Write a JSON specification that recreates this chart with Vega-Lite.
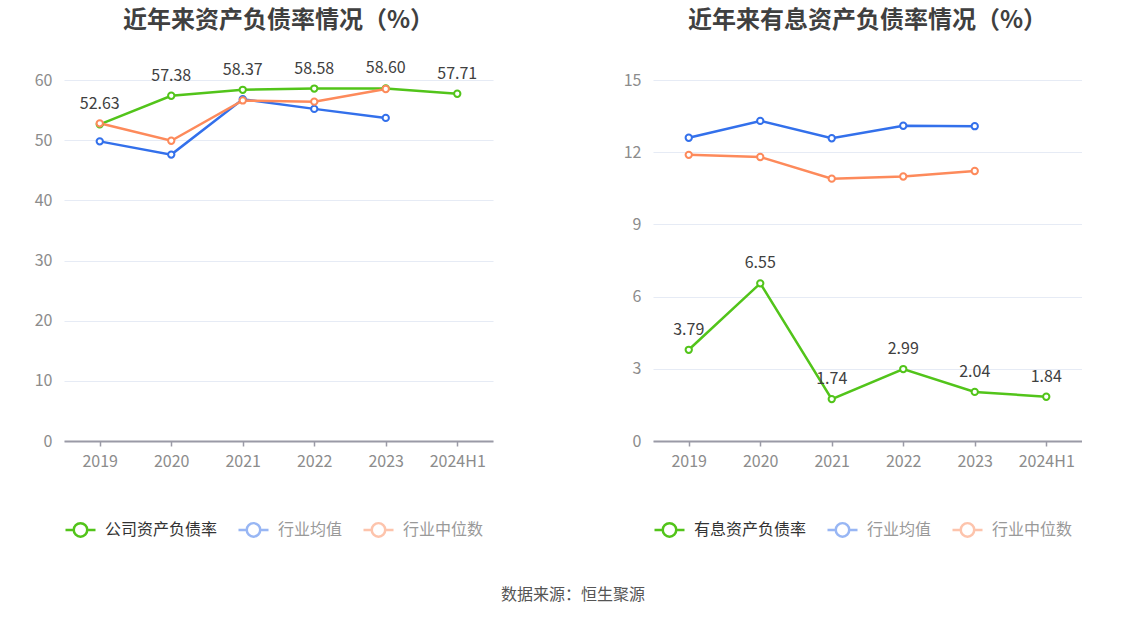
{
  "$schema": "https://vega.github.io/schema/vega-lite/v6.json",
  "padding": {"left": 0, "top": 9, "right": 0, "bottom": 20},
  "background": "white",
  "title": {
    "text": "数据来源：恒生聚源",
    "orient": "bottom",
    "anchor": "middle",
    "fontSize": 16,
    "fontWeight": "normal",
    "color": "#555555",
    "font": "Noto Sans CJK SC",
    "offset": 45,
    "dx": 32
  },
  "datasets": {
    "debt": [
      {"year": "2019", "series": "公司资产负债率", "value": 52.63},
      {"year": "2020", "series": "公司资产负债率", "value": 57.38},
      {"year": "2021", "series": "公司资产负债率", "value": 58.37},
      {"year": "2022", "series": "公司资产负债率", "value": 58.58},
      {"year": "2023", "series": "公司资产负债率", "value": 58.60},
      {"year": "2024H1", "series": "公司资产负债率", "value": 57.71},
      {"year": "2019", "series": "行业均值", "value": 49.8},
      {"year": "2020", "series": "行业均值", "value": 47.6},
      {"year": "2021", "series": "行业均值", "value": 56.8},
      {"year": "2022", "series": "行业均值", "value": 55.2},
      {"year": "2023", "series": "行业均值", "value": 53.7},
      {"year": "2019", "series": "行业中位数", "value": 52.8},
      {"year": "2020", "series": "行业中位数", "value": 49.9},
      {"year": "2021", "series": "行业中位数", "value": 56.6},
      {"year": "2022", "series": "行业中位数", "value": 56.4},
      {"year": "2023", "series": "行业中位数", "value": 58.5}
    ],
    "interest": [
      {"year": "2019", "series": "有息资产负债率", "value": 3.79},
      {"year": "2020", "series": "有息资产负债率", "value": 6.55},
      {"year": "2021", "series": "有息资产负债率", "value": 1.74},
      {"year": "2022", "series": "有息资产负债率", "value": 2.99},
      {"year": "2023", "series": "有息资产负债率", "value": 2.04},
      {"year": "2024H1", "series": "有息资产负债率", "value": 1.84},
      {"year": "2019", "series": "行业均值", "value": 12.6},
      {"year": "2020", "series": "行业均值", "value": 13.3},
      {"year": "2021", "series": "行业均值", "value": 12.58},
      {"year": "2022", "series": "行业均值", "value": 13.1},
      {"year": "2023", "series": "行业均值", "value": 13.08},
      {"year": "2019", "series": "行业中位数", "value": 11.89},
      {"year": "2020", "series": "行业中位数", "value": 11.8},
      {"year": "2021", "series": "行业中位数", "value": 10.9},
      {"year": "2022", "series": "行业中位数", "value": 10.99},
      {"year": "2023", "series": "行业中位数", "value": 11.22}
    ]
  },
  "hconcat": [
    {
      "title": {"text": "近年来资产负债率情况（%）", "frame": "group", "offset": 27},
      "width": 429,
      "height": 361,
      "data": {"name": "debt"},
      "encoding": {
        "x": {"field": "year", "type": "ordinal", "title": null, "sort": null},
        "y": {"field": "value", "type": "quantitative", "title": null,
              "scale": {"domain": [0, 60]}, "axis": {"values": [0, 10, 20, 30, 40, 50, 60]}},
        "stroke": {
          "field": "series", "type": "nominal", "title": null,
          "scale": {"domain": ["公司资产负债率", "行业均值", "行业中位数"], "range": ["#52c41a", "#3370eb", "#fd8a5b"]},
          "legend": {
            "encode": {
              "labels": {"update": {"fill": {"signal": "datum.label == '公司资产负债率' ? '#333333' : '#999999'"}}},
              "symbols": {"update": {"fill": {"value": "white"}, "opacity": {"signal": "datum.label == '公司资产负债率' ? 1 : 0.5"}}}
            }
          }
        }
      },
      "layer": [
        {"mark": {"type": "line", "strokeWidth": 2.5}},
        {"mark": {"type": "point", "filled": false, "fill": "white", "fillOpacity": 1, "strokeWidth": 2, "size": 40, "opacity": 1}},
        {
          "transform": [{"filter": "datum.series == '公司资产负债率'"}],
          "mark": {"type": "text", "dy": -20, "fontSize": 16, "font": "Noto Sans CJK SC", "fill": "#404040", "strokeWidth": 0},
          "encoding": {"text": {"field": "value", "type": "quantitative", "format": ".2f"}, "stroke": {"value": null}}
        }
      ]
    },
    {
      "title": {"text": "近年来有息资产负债率情况（%）", "frame": "group", "offset": 39},
      "width": 429,
      "height": 361,
      "data": {"name": "interest"},
      "encoding": {
        "x": {"field": "year", "type": "ordinal", "title": null, "sort": null},
        "y": {"field": "value", "type": "quantitative", "title": null,
              "scale": {"domain": [0, 15]}, "axis": {"values": [0, 3, 6, 9, 12, 15]}},
        "stroke": {
          "field": "series", "type": "nominal", "title": null,
          "scale": {"domain": ["有息资产负债率", "行业均值", "行业中位数"], "range": ["#52c41a", "#3370eb", "#fd8a5b"]},
          "legend": {
            "encode": {
              "labels": {"update": {"fill": {"signal": "datum.label == '有息资产负债率' ? '#333333' : '#999999'"}}},
              "symbols": {"update": {"fill": {"value": "white"}, "opacity": {"signal": "datum.label == '有息资产负债率' ? 1 : 0.5"}}}
            }
          }
        }
      },
      "layer": [
        {"mark": {"type": "line", "strokeWidth": 2.5}},
        {"mark": {"type": "point", "filled": false, "fill": "white", "fillOpacity": 1, "strokeWidth": 2, "size": 40, "opacity": 1}},
        {
          "transform": [{"filter": "datum.series == '有息资产负债率'"}],
          "mark": {"type": "text", "dy": -20, "fontSize": 16, "font": "Noto Sans CJK SC", "fill": "#404040", "strokeWidth": 0},
          "encoding": {"text": {"field": "value", "type": "quantitative", "format": ".2f"}, "stroke": {"value": null}}
        }
      ]
    }
  ],
  "spacing": 96,
  "resolve": {"scale": {"stroke": "independent"}, "legend": {"stroke": "independent"}},
  "config": {
    "font": "Noto Sans CJK SC",
    "view": {"stroke": null},
    "title": {"fontSize": 24, "fontWeight": "bold", "color": "#404040", "anchor": "middle"},
    "axisX": {
      "labelAngle": 0, "labelColor": "#8c8c8c", "labelFontSize": 16, "labelPadding": 7,
      "domainColor": "#9a9aa6", "domainWidth": 2, "tickColor": "#9a9aa6", "tickSize": 5, "tickWidth": 1.5,
      "grid": false, "bandPosition": 0.5
    },
    "axisY": {
      "labelColor": "#8c8c8c", "labelFontSize": 16, "labelPadding": 12,
      "domain": false, "ticks": false, "gridColor": "#e6ebf5", "gridWidth": 1.2, "minExtent": 64, "maxExtent": 64
    },
    "legend": {
      "orient": "bottom", "direction": "horizontal", "offset": 44,
      "symbolType": "M-1,0 L-0.45,0 M0.45,0 L1,0 M-0.45,0 A0.45,0.45 0 1,0 0.45,0 A0.45,0.45 0 1,0 -0.45,0",
      "symbolSize": 900, "symbolStrokeWidth": 2.5, "symbolFillColor": "white",
      "labelFontSize": 16, "labelColor": "#333333", "columnPadding": 15, "labelOffset": 8
    }
  }
}
